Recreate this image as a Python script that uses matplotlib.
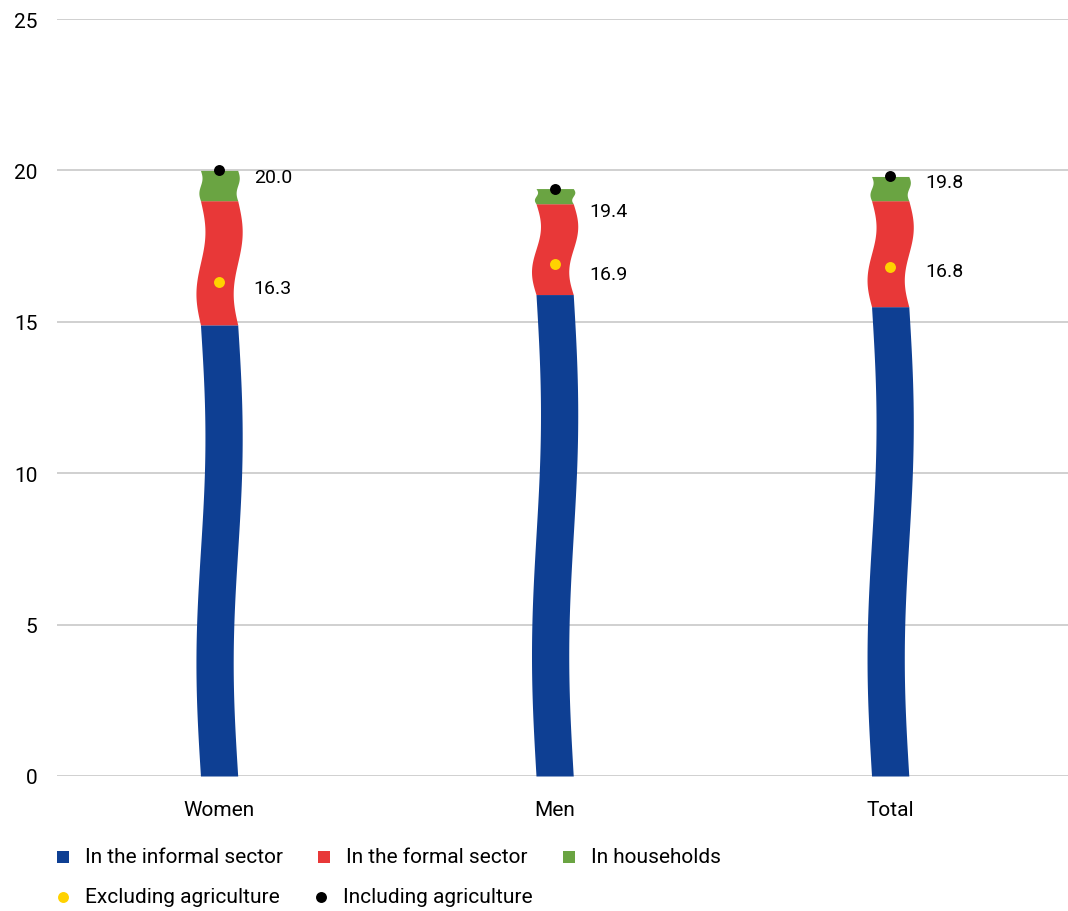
import numpy as np
import matplotlib
matplotlib.use("Agg")
import matplotlib.pyplot as plt

plt.rcParams['font.family'] = ['Roboto', 'DejaVu Sans']

# data
categories = ["Women", "Men", "Total"]
informal = [14.9, 15.9, 15.5]
formal = [4.1, 3.0, 3.5]
households = [1.0, 0.5, 0.8]
excl_agri = [16.3, 16.9, 16.8]
incl_agri = [20.0, 19.4, 19.8]
seg_labels = ["In the informal sector", "In the formal sector", "In households"]
dot_labels = ["Excluding agriculture", "Including agriculture"]

seg_colors = ["#0E3F93", "#E83838", "#6AA442"]
dot_colors = ["#FFD200", "#000000"]
grid_col = "#C8C8C8"

# label offsets (points) so the men labels don't collide
incl_off = [-5, -16, -4]
excl_off = [-4, -7, -3]

BAR_W = 0.111
AMP = 0.0134
seg_amp = [1.0, 1.0, 0.35]  # households piece is short, keep its wiggle small


def wavy_segment(ax, c, y0, y1, color, amp):
    # each piece gets one full sine period along its height
    t = np.linspace(0, 1, 80)
    y = y0 + t * (y1 - y0)
    dx = -amp * np.sin(2 * np.pi * t)
    ax.fill_betweenx(y, c - BAR_W / 2 + dx, c + BAR_W / 2 + dx,
                     color=color, linewidth=0, zorder=3)


fig = plt.figure(figsize=(10.68, 9.12), dpi=100)
ax = fig.add_axes([57 / 1068, 1 - 777 / 912, 1 - 57 / 1068, (777 - 20) / 912])

x = np.arange(len(categories))
for i, c in enumerate(x):
    bottom = 0
    for vals, col, k in zip([informal, formal, households], seg_colors, seg_amp):
        wavy_segment(ax, c, bottom, bottom + vals[i], col, AMP * k)
        bottom += vals[i]

ax.scatter(x, excl_agri, s=62, color=dot_colors[0], zorder=5, linewidths=0)
ax.scatter(x, incl_agri, s=62, color=dot_colors[1], zorder=5, linewidths=0)

for i, c in enumerate(x):
    ax.annotate(f"{incl_agri[i]:.1f}", (c, incl_agri[i]), xytext=(25, incl_off[i]),
                textcoords="offset points", va="center", ha="left", fontsize=14)
    ax.annotate(f"{excl_agri[i]:.1f}", (c, excl_agri[i]), xytext=(25, excl_off[i]),
                textcoords="offset points", va="center", ha="left", fontsize=14)

ax.set_xlim(-0.483, 2.53)
ax.set_ylim(0, 25)
ax.set_yticks([0, 5, 10, 15, 20, 25])
ax.set_xticks(x)
ax.set_xticklabels(categories)
ax.yaxis.grid(True, color=grid_col, linewidth=1.2)
ax.set_axisbelow(True)
for s in ax.spines.values():
    s.set_visible(False)
ax.tick_params(axis='both', length=0, labelsize=15)
ax.tick_params(axis='y', pad=14)
ax.tick_params(axis='x', pad=17)

# legend drawn by hand in pixel coords
lg = fig.add_axes([0, 0, 1, 1])
lg.set_xlim(0, 1068)
lg.set_ylim(912, 0)
lg.axis('off')
row1 = [(63, 858), (324, 858), (569, 858)]
for (px, py), lab, col in zip(row1, seg_labels, seg_colors):
    lg.scatter([px], [py], marker='s', s=75, color=col, linewidths=0)
    lg.text(px + 22, py, lab, va='center', ha='left', fontsize=15)
row2 = [(63, 898), (321, 898)]
for (px, py), lab, col in zip(row2, dot_labels, dot_colors):
    lg.scatter([px], [py], marker='o', s=62, color=col, linewidths=0)
    lg.text(px + 22, py, lab, va='center', ha='left', fontsize=15)

fig.savefig("out.png", dpi=100)
